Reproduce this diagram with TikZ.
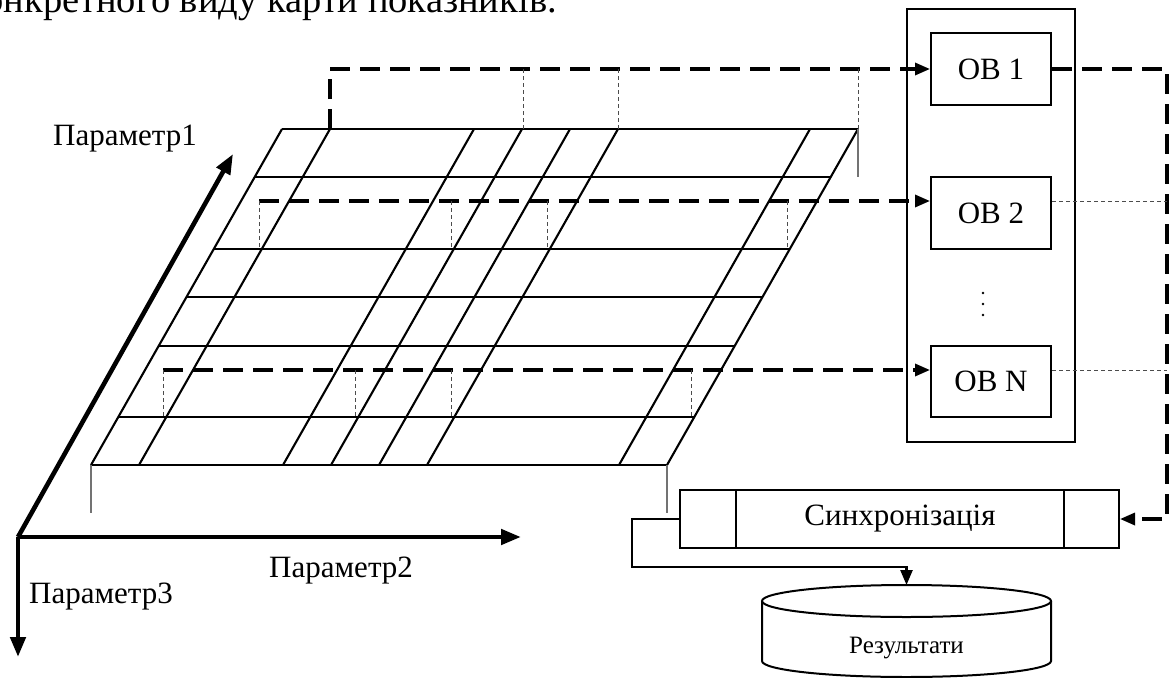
\documentclass[tikz,border=0pt]{standalone}
\usepackage{fontspec}
\setmainfont{Liberation Serif}
\usetikzlibrary{arrows.meta}
\begin{document}
\begin{tikzpicture}[x=1pt,y=-1pt,
  gridline/.style={line width=2.1pt},
  thickdash/.style={line width=3.2pt, dash pattern=on 20pt off 10pt},
  thindash/.style={line width=0.9pt, black!70, dash pattern=on 4pt off 3pt},
  thingray/.style={line width=1.1pt, black!55},
  axisline/.style={line width=4.6pt, -{Triangle[length=20pt,width=15pt]}},
  arr/.style={-{Triangle[length=15pt,width=12pt]}},
  obbox/.style={draw, line width=2pt, minimum width=120pt, minimum height=72pt, inner sep=0pt, font=\fontsize{31}{36}\selectfont},
  lbl/.style={font=\fontsize{31}{36}\selectfont, inner sep=0pt},
]
\useasboundingbox (0,0) rectangle (1169,677);
\clip (0,0) rectangle (1169,677);

% top text (cut off by the page edge, as in the reference)
\node[font=\fontsize{38.5}{42}\selectfont, anchor=base east, inner sep=0pt] (toptext) at (557,13) {конкретного виду карти показників.};

% grid (parallelogram)
\foreach \yy in {129,177,249,297,346,417,465}
  \draw[gridline] ({91+(465-\yy)*0.56845},\yy) -- ({667+(465-\yy)*0.56845},\yy);
\foreach \xb in {91,139,283,331,379,427,619,667}
  \draw[gridline] (\xb,465) -- (\xb+191,129);

% thin gray solid drops
\draw[thingray] (858,129) -- (858,177);
\draw[thingray] (91,465) -- (91,513);
\draw[thingray] (667,465) -- (667,513);

% right block
\node[draw, line width=2pt, minimum width=168pt, minimum height=433pt, inner sep=0pt] (cont) at (991,225.5) {};
\node[obbox] (ob1) at (991,69) {OB 1};
\node[obbox] (ob2) at (991,213) {OB 2};
\node[obbox, minimum height=71pt] (obn) at (991,381.5) {OB N};
\foreach \yy in {293,304,315} \fill (983,\yy) circle (1.4);

% synchronisation
\node[draw, line width=2pt, minimum width=439pt, minimum height=58pt, inner sep=0pt] (sync) at (899.5,519) {};
\node[lbl] (synctext) at (900,519) {Синхронізація};
\draw[line width=2pt] (736,490) -- (736,548);
\draw[line width=2pt] (1064,490) -- (1064,548);

% cylinder
\draw[line width=2pt, fill=white] (906.5,601) ellipse [x radius=144.5, y radius=16];
\draw[line width=2pt] (762,601) -- (762,661)
  .. controls (762,669.8) and (826.7,677) .. (906.5,677)
  .. controls (986.3,677) and (1051,669.8) .. (1051,661) -- (1051,601);
\coordinate (cyltop) at (906.5,585);
\node[font=\fontsize{25}{30}\selectfont, anchor=base, inner sep=0pt] (res) at (906.5,653) {Результати};

% dashed connections from grid to OB boxes
\coordinate (r1) at (330,129);
\coordinate (r2) at (259,201);
\coordinate (r3) at (163,370);
\draw[thickdash, arr] (r1) -- (330,69) -- (ob1.west);
\draw[thickdash, arr] (r2) -- (ob2.west |- r2);
\draw[thickdash, arr] (r3) -- (obn.west |- r3);
\foreach \xx in {523,618,858} \draw[thindash] (\xx,69) -- (\xx,129);
\foreach \xx in {259,451,547,787} \draw[thindash] (\xx,201) -- (\xx,249);
\foreach \xx in {163,355,451,691} \draw[thindash] (\xx,370) -- (\xx,417);

% outputs of OB boxes to synchronisation
\coordinate (rc) at (1167,69);
\draw[thickdash, arr] (ob1.east) -- (rc) -- (rc |- sync.east) -- (sync.east);
\draw[thindash] (ob2.east |- r2) -- (rc |- r2);
\draw[thindash] (obn.east |- r3) -- (rc |- r3);

% synchronisation to results
\draw[line width=2.4pt, arr] (sync.west) -- (632,519) -- (632,567) -- (cyltop |- 0,567) -- (cyltop);

% axes
\coordinate (O) at (18,537);
\coordinate (p1) at (233,154);
\coordinate (p2) at (521,537);
\coordinate (p3) at (18,657);
\draw[axisline] (O) -- (p1);
\draw[axisline] (O) -- (p2);
\draw[axisline] (O) -- (p3);
\node[lbl, anchor=base west] (l1) at (53,145) {Параметр1};
\node[lbl, anchor=base west] (l2) at (269,577) {Параметр2};
\node[lbl, anchor=base west] (l3) at (29,603) {Параметр3};
\end{tikzpicture}
\end{document}
